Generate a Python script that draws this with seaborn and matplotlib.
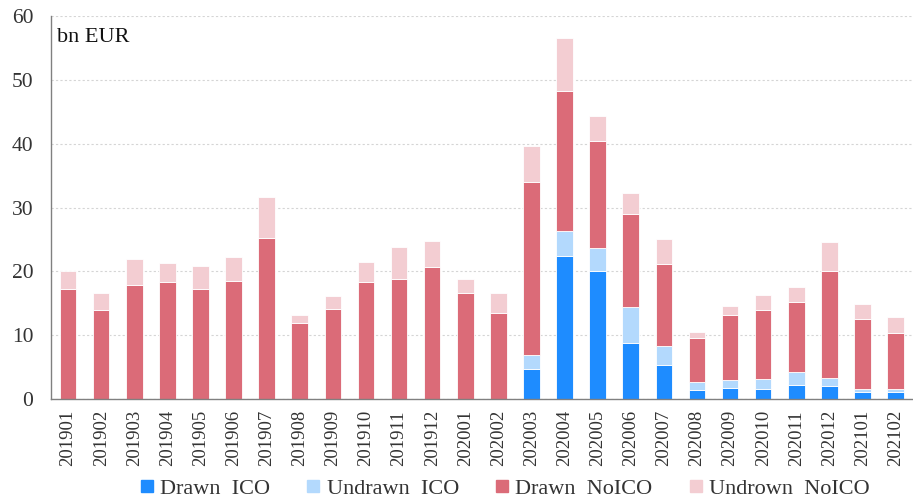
import matplotlib
matplotlib.use("Agg")
import matplotlib.pyplot as plt
import seaborn as sns
import numpy as np
import pandas as pd
from matplotlib.lines import Line2D

categories = ["201901", "201902", "201903", "201904", "201905", "201906", "201907",
              "201908", "201909", "201910", "201911", "201912", "202001", "202002",
              "202003", "202004", "202005", "202006", "202007", "202008", "202009",
              "202010", "202011", "202012", "202101", "202102"]

drawn_ico = [0, 0, 0, 0, 0, 0, 0, 0, 0, 0, 0, 0, 0, 0,
             4.75, 22.48, 19.98, 8.76, 5.37, 1.46, 1.67, 1.62, 2.19, 1.98, 1.04, 1.04]
undrawn_ico = [0, 0, 0, 0, 0, 0, 0, 0, 0, 0, 0, 0, 0, 0,
               2.14, 3.86, 3.70, 5.64, 2.98, 1.15, 1.25, 1.56, 2.09, 1.36, 0.58, 0.47]
drawn_noico = [17.27, 13.93, 17.89, 18.31, 17.21, 18.52, 25.30, 11.95, 14.14, 18.36,
               18.88, 20.61, 16.64, 13.51, 27.17, 21.91, 16.75, 14.55, 12.83, 6.88,
               10.28, 10.80, 10.85, 16.74, 10.90, 8.77]
undrawn_noico = [2.76, 2.66, 4.07, 3.03, 3.66, 3.70, 6.31, 1.20, 2.03, 3.18, 4.86,
                 4.17, 2.14, 3.08, 5.53, 8.24, 3.91, 3.39, 3.86, 1.05, 1.30, 2.24,
                 2.35, 4.59, 2.29, 2.60]

series_names = ["Drawn  ICO", "Undrawn  ICO", "Drawn  NoICO", "Undrown  NoICO"]
series_vals = [drawn_ico, undrawn_ico, drawn_noico, undrawn_noico]
colors = ["#1E8CFF", "#B3D9FD", "#DB6B78", "#F3CDD2"]

sns.set_style("white")
plt.rcParams["font.family"] = ["Liberation Serif", "DejaVu Serif"]

fig = plt.figure(figsize=(9.13, 5.04), dpi=100)
ax = fig.add_axes([0.0564, 0.2083, 0.9426, 0.7599])

bottom = np.zeros(len(categories))
for name, vals, col in zip(series_names, series_vals, colors):
    df = pd.DataFrame({"cat": categories, "val": vals})
    sns.barplot(data=df, x="cat", y="val", bottom=bottom, color=col, width=0.5,
                ax=ax, edgecolor="white", linewidth=0.6, saturation=1, errorbar=None)
    bottom = bottom + np.array(vals)

ax.set_ylim(0, 60)
ax.set_xlim(-0.5, len(categories) - 0.5)
ax.set_yticks(range(0, 61, 10))
ax.set_xlabel("")
ax.set_ylabel("")
ax.yaxis.grid(True, linestyle=(0, (2, 2)), color="#D5D5D5", linewidth=0.8)
ax.set_axisbelow(True)
for s in ["top", "right"]:
    ax.spines[s].set_visible(False)
for s in ["left", "bottom"]:
    ax.spines[s].set_color("#808080")
    ax.spines[s].set_linewidth(1.0)

ax.tick_params(axis="y", length=0, pad=13, labelsize=15.5, labelcolor="#333333")
ax.tick_params(axis="x", which="major", length=0, pad=8, labelsize=13.5,
               labelcolor="#333333", labelrotation=90)
ax.set_xticks(np.arange(-0.5, len(categories), 1), minor=True)
ax.tick_params(axis="x", which="minor", direction="in", length=4, color="#BBBBBB")

ax.text(0.006, 0.97, "bn EUR", transform=ax.transAxes, fontsize=16,
        va="top", ha="left", color="#111111")

handles = [Line2D([0], [0], marker="s", linestyle="none", markersize=8,
                  markerfacecolor=c, markeredgecolor=c) for c in colors]
fig.legend(handles, series_names, loc="lower center", ncol=4, frameon=False,
           fontsize=16, bbox_to_anchor=(0.553, -0.03), handlelength=0.6,
           handletextpad=0.3, columnspacing=1.65, labelcolor="#333333")

fig.savefig("out.png", dpi=100)
